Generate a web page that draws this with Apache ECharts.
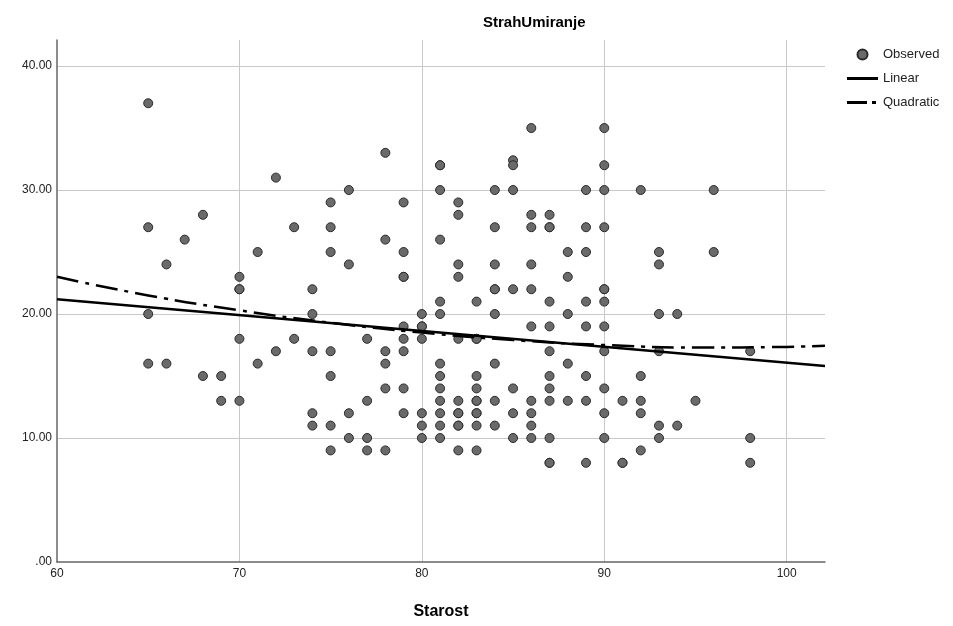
<!DOCTYPE html>
<html>
<head>
<meta charset="utf-8">
<script src="https://cdn.jsdelivr.net/npm/echarts@6/dist/echarts.min.js"></script>
<style>
  html, body { margin: 0; padding: 0; background: #fff; }
  #chart { width: 953px; height: 626px; }
</style>
</head>
<body>
<div id="chart"></div>
<script>
// starost (age) values and the StrahUmiranje scores observed at each age
var ages = [65, 66, 67, 68, 69, 70, 71, 72, 73, 74, 75, 76, 77, 78, 79, 80, 81,
            82, 83, 84, 85, 86, 87, 88, 89, 90, 91, 92, 93, 94, 95, 96, 98];
var scoresByAge = [
  [37, 27, 20, 16],                          // 65
  [24, 16],                                  // 66
  [26],                                      // 67
  [28, 15],                                  // 68
  [15, 13],                                  // 69
  [23, 22, 22, 18, 13],                      // 70
  [25, 16],                                  // 71
  [31, 17],                                  // 72
  [27, 18],                                  // 73
  [22, 20, 17, 12, 11],                      // 74
  [29, 27, 25, 17, 15, 11, 9],               // 75
  [30, 24, 12, 10],                          // 76
  [18, 13, 10, 9],                           // 77
  [33, 26, 17, 16, 14, 9],                   // 78
  [29, 25, 23, 23, 19, 18, 17, 14, 12],      // 79
  [20, 19, 19, 18, 12, 11, 10],              // 80
  [32, 32, 30, 26, 21, 20, 16, 15, 14, 13, 12, 11, 10], // 81
  [29, 28, 24, 23, 18, 13, 12, 12, 11, 11, 9],          // 82
  [21, 18, 18, 15, 14, 13, 13, 12, 12, 11, 9],          // 83
  [30, 27, 24, 22, 22, 20, 16, 13, 11],      // 84
  [32.4, 32, 30, 22, 14, 12, 10],            // 85
  [35, 28, 27, 24, 22, 19, 13, 12, 11, 10],  // 86
  [28, 27, 27, 21, 19, 17, 15, 14, 13, 10, 8, 8], // 87
  [25, 23, 20, 16, 13],                      // 88
  [30, 27, 25, 21, 19, 15, 13, 8],           // 89
  [35, 32, 30, 27, 22, 22, 21, 19, 17, 14, 12, 10], // 90
  [13, 8, 8],                                // 91
  [30, 15, 13, 12, 9],                       // 92
  [25, 24, 20, 17, 11, 10],                  // 93
  [20, 11],                                  // 94
  [13],                                      // 95
  [30, 25],                                  // 96
  [17, 10, 8]                                // 98
];

// fitted lines
var linearX = [60, 102.1];
var linearY = [21.2, 15.8];
var quadX = [60, 65, 70, 75, 80, 85, 90, 95, 100, 102.1];
var quadY = [23.0, 21.5, 20.3, 19.3, 18.5, 17.9, 17.5, 17.3, 17.35, 17.45];

var xTicks = [60, 70, 80, 90, 100];
var yTicks = [0, 10, 20, 30, 40];
var xRange = [60, 102.1];
var yRange = [0, 42.1];

var observed = [];
ages.forEach(function (a, i) {
  scoresByAge[i].forEach(function (s) { observed.push([a, s]); });
});
var linearFit = linearX.map(function (x, i) { return [x, linearY[i]]; });
var quadFit = quadX.map(function (x, i) { return [x, quadY[i]]; });

var chart = echarts.init(document.getElementById('chart'), null, { renderer: 'canvas' });
chart.setOption({
  animation: false,
  title: {
    text: 'StrahUmiranje',
    left: 478, top: 10,
    textStyle: { fontFamily: 'Liberation Sans', fontSize: 15, fontWeight: 'bold', color: '#000' }
  },
  legend: {
    orient: 'vertical',
    left: 842, top: 43,
    itemWidth: 31, itemHeight: 10, itemGap: 11,
    textStyle: { fontFamily: 'Liberation Sans', fontSize: 13, color: '#222' },
    data: [
      { name: 'Observed', icon: 'circle' },
      { name: 'Linear', icon: 'path://M0,0h31v3h-31z' },
      { name: 'Quadratic', icon: 'path://M0,0h20v3h-20z M25,0h4v3h-4z M31,0h0v3h0z' }
    ]
  },
  grid: { left: 57, right: 128, top: 40, bottom: 64 },
  xAxis: {
    type: 'value', min: xRange[0], max: xRange[1], interval: 10,
    name: 'Starost', nameLocation: 'middle', nameGap: 42,
    nameTextStyle: { fontFamily: 'Liberation Sans', fontSize: 16, fontWeight: 'bold', color: '#000' },
    axisLine: { show: true, onZero: false, lineStyle: { color: '#666', width: 1.5 } },
    axisTick: { show: false },
    axisLabel: {
      fontFamily: 'Liberation Sans', fontSize: 12, color: '#222', margin: 6,
      formatter: function (v) { return xTicks.indexOf(v) >= 0 ? String(v) : ''; }
    },
    splitLine: { show: true, showMinLine: false, showMaxLine: false, lineStyle: { color: '#c8c8c8', width: 1 } }
  },
  yAxis: {
    type: 'value', min: yRange[0], max: yRange[1], interval: 10,
    axisLine: { show: true, lineStyle: { color: '#666', width: 1.5 } },
    axisTick: { show: false },
    axisLabel: {
      fontFamily: 'Liberation Sans', fontSize: 12, color: '#222', margin: 5,
      formatter: function (v) { return yTicks.indexOf(v) >= 0 ? v.toFixed(2).replace(/^0/, '') : ''; }
    },
    splitLine: { show: true, showMinLine: false, showMaxLine: false, lineStyle: { color: '#c8c8c8', width: 1 } }
  },
  series: [
    {
      name: 'Observed', type: 'scatter', data: observed, symbolSize: 9, z: 3,
      itemStyle: { color: '#6a6a6a', borderColor: '#2a2a2a', borderWidth: 1, opacity: 1 }
    },
    {
      name: 'Linear', type: 'line', data: linearFit, symbol: 'none', z: 4,
      lineStyle: { color: '#000', width: 2.5 }, itemStyle: { color: '#000' }
    },
    {
      name: 'Quadratic', type: 'line', data: quadFit, symbol: 'none', smooth: true, z: 4,
      lineStyle: { color: '#000', width: 2.5, type: [22, 7, 4, 7] }, itemStyle: { color: '#000' }
    }
  ]
});
</script>
</body>
</html>
